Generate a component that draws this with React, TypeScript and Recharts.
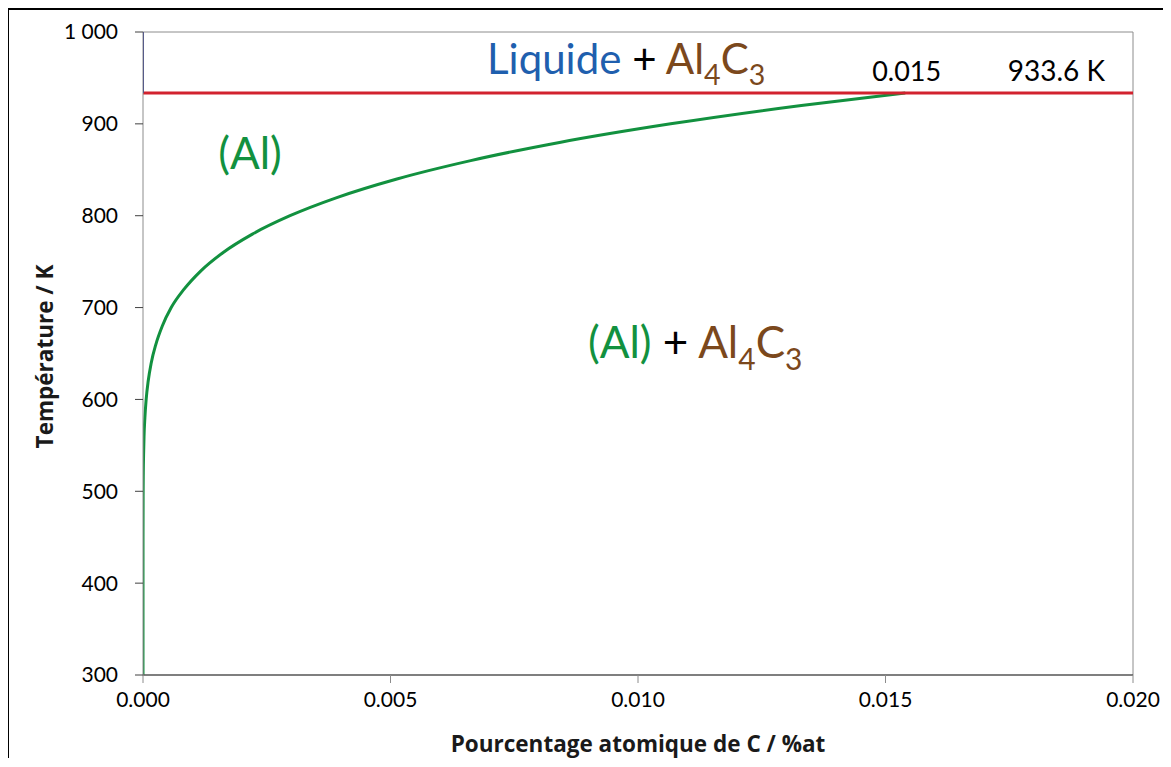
import React from "react";
import { LineChart, Line, XAxis, YAxis, ReferenceLine, ReferenceDot } from "recharts";

// Solubility limit of C in (Al): temperature (K) and composition (%at)
const solvusT = [300, 400, 450, 500, 520, 540, 560, 580, 600, 620, 640, 660, 680, 700, 720, 740, 760, 780, 800, 820, 840, 860, 880, 900, 920, 933.6];
const solvusX = [0, 0.0000001, 0.0000004, 0.000003, 0.000006, 0.000012, 0.000021, 0.000038, 0.000064, 0.000105, 0.000167, 0.00026, 0.00039, 0.00057, 0.00083, 0.00117, 0.00162, 0.00221, 0.00297, 0.00393, 0.00513, 0.00662, 0.00844, 0.01066, 0.0133, 0.0154];

const eutecticT = 933.6;
const eutecticX = 0.0154;

const xTicks = [0, 0.005, 0.01, 0.015, 0.02];
const yTicks = [300, 400, 500, 600, 700, 800, 900, 1000];

const GREEN = "#12913f";
const RED = "#d2222e";
const NAVY = "#232a86";
const BLUE = "#1f5fae";
const BROWN = "#7b481c";
const FONT = "Lato, 'Open Sans', sans-serif";
const TITLE_FONT = "'Open Sans', 'DejaVu Sans', sans-serif";

const solvus = solvusX.map((x, i) => ({ x, T: solvusT[i] }));
const eutectic = [{ x: 0, T: eutecticT }, { x: 0.02, T: eutecticT }];
const liquidus = [{ x: 0, T: eutecticT }, { x: 0, T: 1000 }];

type Part = { t: string; c: string; sub?: boolean };

const AL4C3: Part[] = [
  { t: "Al", c: BROWN },
  { t: "4", c: BROWN, sub: true },
  { t: "C", c: BROWN },
  { t: "3", c: BROWN, sub: true },
];

function phaseLabel(parts: Part[], size: number) {
  return (props: any) => {
    const { x, y } = props.viewBox;
    const shift = size * 0.27;
    let low = false;
    return (
      <text x={x} y={y} fontFamily={FONT} fontSize={size}>
        {parts.map((p, i) => {
          let dy = 0;
          if (p.sub && !low) { dy = shift; low = true; }
          else if (!p.sub && low) { dy = -shift; low = false; }
          return (
            <tspan key={i} fill={p.c} dy={dy} fontSize={p.sub ? size * 0.68 : size}>
              {p.t}
            </tspan>
          );
        })}
      </text>
    );
  };
}

const fmtY = (v: number) => (v >= 1000 ? "1 000" : String(v));
const fmtX = (v: number) => v.toFixed(3);

export default function App() {
  return (
    <div style={{ position: "relative", width: 1155, height: 750 }}>
      <div style={{ position: "absolute", left: -1, top: 0, width: 2, height: 750, background: "#000" }} />
      <div style={{ position: "absolute", left: -1, top: 0, width: 1160, height: 2, background: "#000" }} />
      <LineChart width={1155} height={750} data={solvus} margin={{ top: 24, right: 30, bottom: 0, left: 0 }}>
        <XAxis
          dataKey="x"
          type="number"
          domain={[0, 0.02]}
          ticks={xTicks}
          tickFormatter={fmtX}
          height={83}
          allowDataOverflow
          axisLine={{ stroke: "#555", strokeWidth: 1.5 }}
          tickLine={{ stroke: "#8c8c8c" }}
          tickSize={8}
          tickMargin={9}
          tick={{ fill: "#000", fontSize: 21, fontFamily: FONT }}
          label={{
            content: (props: any) => {
              const vb = props.viewBox;
              return (
                <text x={vb.x + vb.width / 2} y={vb.y + 77} textAnchor="middle" fontFamily={TITLE_FONT} fontWeight={700} fontSize={22.5} fill="#1a1a1a">
                  Pourcentage atomique de C / %at
                </text>
              );
            },
          }}
        />
        <YAxis
          dataKey="T"
          type="number"
          domain={[300, 1000]}
          ticks={yTicks}
          tickFormatter={fmtY}
          width={135}
          allowDataOverflow
          axisLine={{ stroke: "#8c8c8c" }}
          tickLine={{ stroke: "#404040" }}
          tickSize={8}
          tickMargin={17}
          tick={{ fill: "#000", fontSize: 21, fontFamily: FONT }}
          label={{
            content: (props: any) => {
              const vb = props.viewBox;
              const cx = 36;
              const cy = vb.y + vb.height / 2 + 3;
              return (
                <text x={cx} y={cy} transform={`rotate(-90, ${cx}, ${cy})`} textAnchor="middle" dominantBaseline="central" fontFamily={TITLE_FONT} fontWeight={700} fontSize={22.5} fill="#1a1a1a">
                  Température / K
                </text>
              );
            },
          }}
        />
        <ReferenceLine y={1000} stroke="#8c8c8c" strokeWidth={1} />
        <ReferenceLine x={0.02} stroke="#8c8c8c" strokeWidth={1} />

        <Line data={solvus} dataKey="T" type="monotone" stroke={GREEN} strokeWidth={3} dot={false} isAnimationActive={false} />
        <Line data={eutectic} dataKey="T" type="linear" stroke={RED} strokeWidth={3} dot={false} isAnimationActive={false} />
        <Line data={liquidus} dataKey="T" type="linear" stroke={NAVY} strokeWidth={2} dot={false} isAnimationActive={false} />

        <ReferenceDot x={0.00695} y={954.8} r={0} fill="none" stroke="none"
          label={{ content: phaseLabel([{ t: "Liquide", c: BLUE }, { t: " + ", c: "#000" }, ...AL4C3], 42) }} />
        <ReferenceDot x={0.00152} y={850.9} r={0} fill="none" stroke="none"
          label={{ content: phaseLabel([{ t: "(Al)", c: GREEN }], 44) }} />
        <ReferenceDot x={0.00899} y={645} r={0} fill="none" stroke="none"
          label={{ content: phaseLabel([{ t: "(Al)", c: GREEN }, { t: " + ", c: "#000" }, ...AL4C3], 44) }} />
        <ReferenceDot x={0.01473} y={946.7} r={0} fill="none" stroke="none"
          label={{ content: phaseLabel([{ t: eutecticX.toFixed(3), c: "#000" }], 27) }} />
        <ReferenceDot x={0.01747} y={946.7} r={0} fill="none" stroke="none"
          label={{ content: phaseLabel([{ t: `${eutecticT} K`, c: "#000" }], 28) }} />
      </LineChart>
    </div>
  );
}
